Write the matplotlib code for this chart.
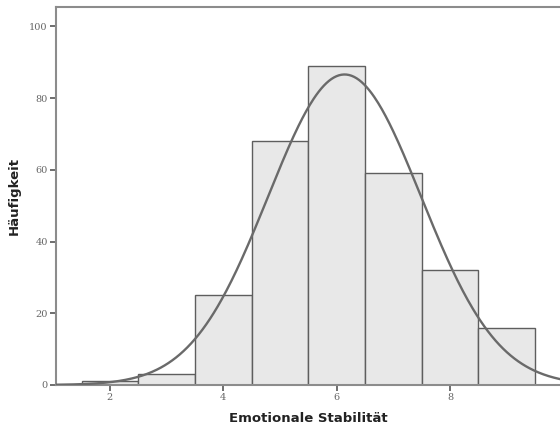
import numpy as np
import matplotlib.pyplot as plt

# Histogram values
werte = [2, 3, 4, 5, 6, 7, 8, 9]
haeufigkeit = [1, 3, 25, 68, 89, 59, 32, 16]
mittelwert = 6.14
stdabw = 1.35
x_ticks = [2, 4, 6, 8]
y_ticks = [0, 20, 40, 60, 80, 100]

fig = plt.figure(figsize=(5.6, 4.32), dpi=100)
ax = fig.add_axes([0.1, 0.1088, 0.9, 0.875])

ax.bar(werte, haeufigkeit, width=1.0, color='#e8e8e8', edgecolor='#5e5e5e',
       linewidth=1.0, zorder=2)

n = sum(haeufigkeit)
xs = np.linspace(1.05, 9.94, 400)
ys = n / (stdabw * np.sqrt(2 * np.pi)) * np.exp(-0.5 * ((xs - mittelwert) / stdabw) ** 2)
ax.plot(xs, ys, color='#6a6a6a', linewidth=1.7, zorder=3)

ax.set_xlim(1.05, 9.94)
ax.set_ylim(0, 105.4)
ax.set_xticks(x_ticks)
ax.set_yticks(y_ticks)

for s in ['left', 'bottom', 'top']:
    ax.spines[s].set_color('#8c8c8c')
    ax.spines[s].set_linewidth(1.5)
ax.spines['right'].set_visible(False)

ax.tick_params(axis='both', direction='out', length=4, width=1.2, color='#555555',
               labelsize=7, labelcolor='#666666', pad=2)
for lab in ax.get_xticklabels() + ax.get_yticklabels():
    lab.set_family('DejaVu Serif')

ax.set_xlabel('Emotionale Stabilität', fontsize=9.5, fontweight='bold', color='#222222', labelpad=7)
ax.set_ylabel('Häufigkeit', fontsize=9.5, fontweight='bold', color='#222222', labelpad=6)

fig.savefig('out.png', dpi=100)
